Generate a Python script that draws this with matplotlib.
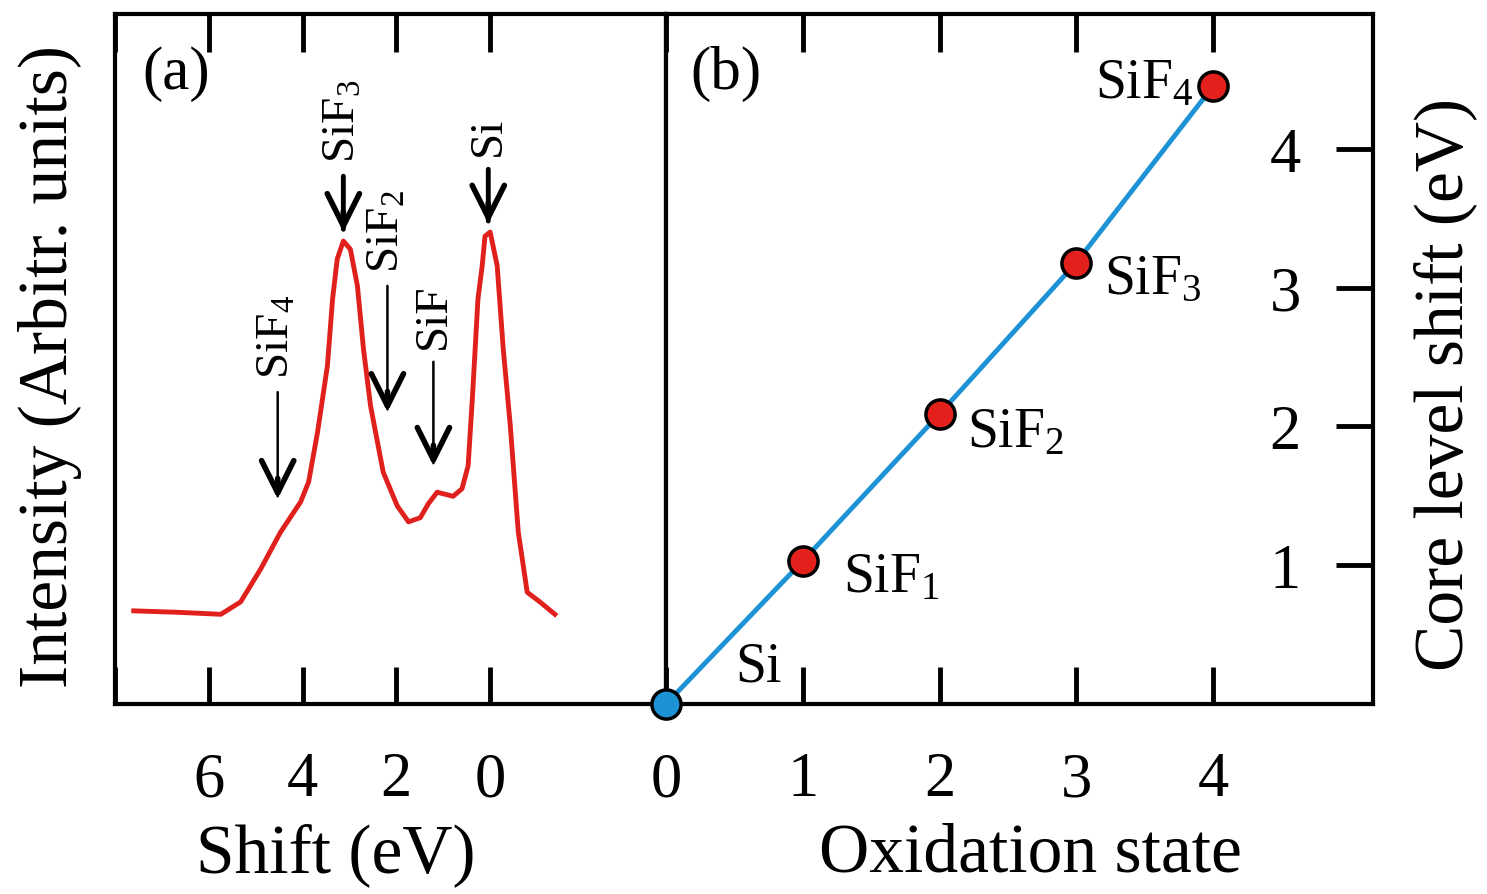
import matplotlib
matplotlib.use('Agg')
import matplotlib.pyplot as plt

plt.rcParams['font.family'] = ['Liberation Serif', 'DejaVu Serif']
plt.rcParams['mathtext.fontset'] = 'custom'
plt.rcParams['mathtext.rm'] = 'Liberation Serif'
plt.rcParams['mathtext.it'] = 'Liberation Serif:italic'

# (a) core level spectrum, shift (eV) vs intensity (arb. units)
shift = [7.60, 6.70, 5.74, 5.32, 4.89, 4.47, 4.04, 3.87, 3.68, 3.47, 3.36, 3.26, 3.13,
         2.98, 2.83, 2.70, 2.55, 2.28, 1.98, 1.74, 1.49, 1.32, 1.13, 0.79, 0.60, 0.47,
         0.38, 0.26, 0.17, 0.11, 0.00, -0.15, -0.28, -0.43, -0.60, -0.79, -1.06, -1.38]
intensity = [0.135, 0.133, 0.130, 0.148, 0.196, 0.249, 0.293, 0.322, 0.394, 0.490, 0.587,
             0.645, 0.671, 0.659, 0.606, 0.514, 0.432, 0.336, 0.287, 0.264, 0.270, 0.290,
             0.307, 0.301, 0.312, 0.345, 0.442, 0.587, 0.635, 0.678, 0.684, 0.635, 0.514,
             0.403, 0.249, 0.162, 0.148, 0.130]

# peak markers in (a)
peak_labels = ['SiF$_4$', 'SiF$_3$', 'SiF$_2$', 'SiF', 'Si']
peak_x = [4.53, 3.13, 2.19, 1.21, 0.04]
arrow_tail = [0.452, 0.765, 0.606, 0.496, 0.775]
arrow_tip = [0.297, 0.684, 0.423, 0.345, 0.696]
arrow_lw = [1.8, 3.5, 1.8, 1.8, 3.5]

# (b) core level shift vs oxidation state
ox_state = [0, 1, 2, 3, 4]
cls = [0.0, 1.03, 2.09, 3.18, 4.45]
ox_labels = ['Si', 'SiF$_1$', 'SiF$_2$', 'SiF$_3$', 'SiF$_4$']
ox_offsets = [(50, 17), (29, -22), (20, -23), (20, -22), (-14, -8)]
ox_ha = ['left', 'left', 'left', 'left', 'right']

fig = plt.figure(figsize=(14.87, 8.95), dpi=100)
ax1 = fig.add_axes([0.0773, 0.2123, 0.3706, 0.7709])
ax2 = fig.add_axes([0.4479, 0.2123, 0.4755, 0.7709])

for ax in (ax1, ax2):
    for sp in ax.spines.values():
        sp.set_linewidth(3)

# ---- panel (a)
ax1.plot(shift, intensity, color='#e0201c', lw=3.5, solid_joinstyle='round')
for lab, x, t0, t1, lw in zip(peak_labels, peak_x, arrow_tail, arrow_tip, arrow_lw):
    # shaft
    ax1.annotate('', xy=(x, t1), xytext=(x, t0),
                 arrowprops=dict(arrowstyle='-', lw=lw, color='black',
                                 shrinkA=0, shrinkB=2))
    # bold head
    ax1.annotate('', xy=(x, t1), xytext=(x, t1 + 0.03),
                 arrowprops=dict(arrowstyle='->', lw=4, color='black',
                                 mutation_scale=58, shrinkA=0, shrinkB=0))
    ax1.text(x, t0 + 0.02, lab, rotation=90, ha='center', va='bottom', fontsize=34)
ax1.set_xlim(8, -3.75)
ax1.set_ylim(0, 1)
ax1.set_xticks([8, 6, 4, 2, 0])
ax1.set_xticklabels(['', '6', '4', '2', '0'])
ax1.set_yticks([])
ax1.tick_params(axis='x', direction='in', length=27, width=3.5, top=True,
                labelsize=45, pad=34)
ax1.text(0.05, 0.915, '(a)', transform=ax1.transAxes, fontsize=44, va='center')
ax1.set_xlabel('Shift (eV)', fontsize=50)
ax1.xaxis.set_label_coords(0.40, -0.217)
ax1.xaxis.label.set_va('center')
ax1.set_ylabel('Intensity (Arbitr. units)', fontsize=50)
ax1.yaxis.set_label_coords(-0.118, 0.49)
ax1.yaxis.label.set_va('center')

# ---- panel (b)
ax2.plot(ox_state, cls, color='#1d93d6', lw=3.5, zorder=2)
ax2.plot(ox_state[1:], cls[1:], 'o', ms=21, mfc='#e3201c', mec='black', mew=2.5,
         zorder=3, clip_on=False)
ax2.plot(ox_state[:1], cls[:1], 'o', ms=21, mfc='#1d93d6', mec='black', mew=2.5,
         zorder=4, clip_on=False)
for lab, x, y, off, ha in zip(ox_labels, ox_state, cls, ox_offsets, ox_ha):
    ax2.annotate(lab, (x, y), xytext=off, textcoords='offset points',
                 ha=ha, va='baseline', fontsize=40)
ax2.set_xlim(0, 5.17)
ax2.set_ylim(0, 4.97)
ax2.set_xticks([0, 1, 2, 3, 4])
ax2.set_yticks([1, 2, 3, 4])
ax2.tick_params(axis='x', direction='in', length=27, width=3.5, top=True,
                labelsize=45, pad=34)
ax2.tick_params(axis='y', direction='in', length=27, width=3.5, left=False,
                right=True, labelleft=False, labelright=True, labelsize=45, pad=-52)
for t in ax2.get_yticklabels():
    t.set_horizontalalignment('right')
ax2.text(0.035, 0.915, '(b)', transform=ax2.transAxes, fontsize=44, va='center')
ax2.set_xlabel('Oxidation state', fontsize=50)
ax2.xaxis.set_label_coords(0.515, -0.217)
ax2.xaxis.label.set_va('center')
ax2.set_ylabel('Core level shift (eV)', fontsize=50, rotation=90)
ax2.yaxis.set_label_position('right')
ax2.yaxis.set_label_coords(1.102, 0.464)
ax2.yaxis.label.set_va('center')

fig.savefig('out.png', dpi=100)
